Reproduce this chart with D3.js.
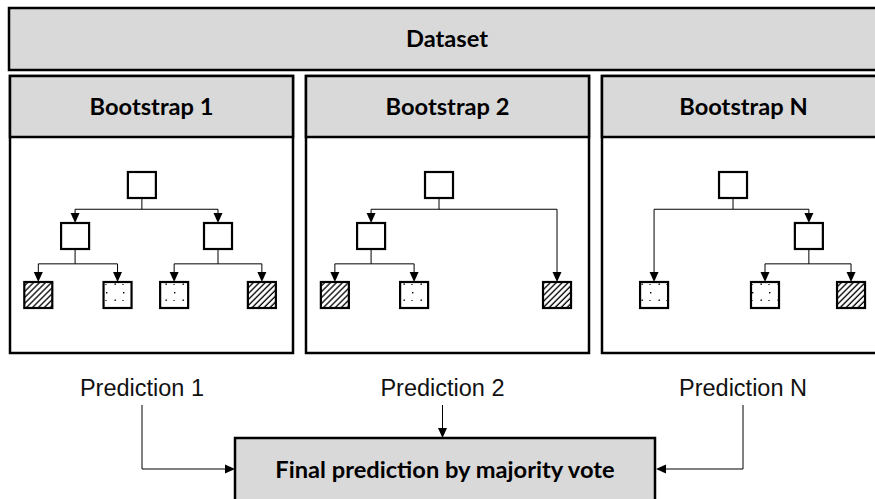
<!DOCTYPE html>
<html>
<head>
<meta charset="utf-8">
<script src="https://cdn.jsdelivr.net/npm/d3@7"></script>
<style>
  body { margin: 0; background: #fff; }
  svg { display: block; }
</style>
</head>
<body>
<div id="chart"></div>
<script>
// ---- data ----
var datasetLabel = "Dataset";
var bootstrapNames = ["Bootstrap 1", "Bootstrap 2", "Bootstrap N"];
var predictionNames = ["Prediction 1", "Prediction 2", "Prediction N"];
var finalLabel = "Final prediction by majority vote";

// tree nodes, pos = horizontal place across the panel (0..100)
// leaves always sit on the bottom row
var tree1 = [
  {id: "r", parent: null, pos: 46.6},
  {id: "a", parent: "r", pos: 23},
  {id: "b", parent: "r", pos: 73.5},
  {id: "a1", parent: "a", pos: 10, leaf: "hatch"},
  {id: "a2", parent: "a", pos: 38, leaf: "dots"},
  {id: "b1", parent: "b", pos: 58, leaf: "dots"},
  {id: "b2", parent: "b", pos: 89, leaf: "hatch"}
];
var tree2 = [
  {id: "r", parent: null, pos: 47},
  {id: "a", parent: "r", pos: 23},
  {id: "a1", parent: "a", pos: 10.2, leaf: "hatch"},
  {id: "a2", parent: "a", pos: 38.2, leaf: "dots"},
  {id: "b", parent: "r", pos: 88.7, leaf: "hatch"}
];
var treeN = [
  {id: "r", parent: null, pos: 46.3},
  {id: "a", parent: "r", pos: 18.4, leaf: "dots"},
  {id: "b", parent: "r", pos: 73.1},
  {id: "b1", parent: "b", pos: 57.6, leaf: "dots"},
  {id: "b2", parent: "b", pos: 88, leaf: "hatch"}
];
var trees = [tree1, tree2, treeN];

// ---- setup ----
var width = 875, height = 499;
var grey = "#d9d9d9";
var boldFont = "Lato, 'Open Sans', sans-serif";

var svg = d3.select("#chart").append("svg")
    .attr("width", width)
    .attr("height", height);

var defs = svg.append("defs");
var hatch = defs.append("pattern")
    .attr("id", "hatch")
    .attr("patternUnits", "userSpaceOnUse")
    .attr("width", 4.2).attr("height", 4.2)
    .attr("patternTransform", "rotate(45)");
hatch.append("rect").attr("width", 4.2).attr("height", 4.2).attr("fill", "#fff");
hatch.append("line")
    .attr("x1", 1).attr("y1", 0).attr("x2", 1).attr("y2", 4.2)
    .attr("stroke", "#000").attr("stroke-width", 1.3);

// sparse dots, a few per leaf box
var dots = defs.append("pattern")
    .attr("id", "dots")
    .attr("patternUnits", "userSpaceOnUse")
    .attr("width", 17).attr("height", 16);
dots.append("rect").attr("width", 17).attr("height", 16).attr("fill", "#fff");
[[4, 4], [12.5, 11.5]].forEach(function(p) {
  dots.append("rect").attr("x", p[0]).attr("y", p[1])
      .attr("width", 1.4).attr("height", 1.4).attr("fill", "#000");
});
dots.append("rect").attr("x", 3).attr("y", 12).attr("width", 2).attr("height", 0.8).attr("fill", "#444");

function arrow(g, x, y, dir) {
  // triangle with tip at (x,y)
  var L = 10, W = 4.5, pts;
  if (dir === "down") pts = [[x, y], [x - W, y - L], [x + W, y - L]];
  else if (dir === "right") pts = [[x, y], [x - L, y - W], [x - L, y + W]];
  else pts = [[x, y], [x + L, y - W], [x + L, y + W]];
  g.append("path").attr("d", "M" + pts.join("L") + "Z").attr("fill", "#000");
}

// ---- dataset bar ----
svg.append("rect")
    .attr("x", 9).attr("y", 8)
    .attr("width", 880).attr("height", 62)
    .attr("fill", grey).attr("stroke", "#000").attr("stroke-width", 2.5);

svg.append("text")
    .attr("class", "bold")
    .attr("x", 447).attr("y", 39)
    .attr("dy", "0.35em")
    .attr("text-anchor", "middle")
    .text(datasetLabel);

// ---- bootstrap panels ----
var xPanel = d3.scaleBand()
    .domain(bootstrapNames)
    .range([10, 885])
    .paddingInner(0.0439);

var panelTop = 76, headerBottom = 137, panelBottom = 353;
var nodeW = 28, nodeH = 26;
var leafLevel = 2;
var levelTop = d3.scaleOrdinal().domain([0, 1, 2]).range([172, 223, 282]);
function rowOf(n) { return n.data.leaf ? leafLevel : n.depth; }

bootstrapNames.forEach(function(name, i) {
  var x0 = xPanel(name), bw = xPanel.bandwidth();
  var g = svg.append("g");

  g.append("rect")
      .attr("x", x0).attr("y", panelTop)
      .attr("width", bw).attr("height", panelBottom - panelTop)
      .attr("fill", "#fff").attr("stroke", "#000").attr("stroke-width", 2.5);
  g.append("rect")
      .attr("x", x0).attr("y", panelTop)
      .attr("width", bw).attr("height", headerBottom - panelTop)
      .attr("fill", grey).attr("stroke", "#000").attr("stroke-width", 2.5);
  g.append("text")
      .attr("class", "bold")
      .attr("x", x0 + bw / 2).attr("y", (panelTop + headerBottom) / 2)
      .attr("dy", "0.35em")
      .attr("text-anchor", "middle")
      .text(name);

  var x = d3.scaleLinear().domain([0, 100]).range([x0, x0 + bw]);
  var root = d3.stratify().id(function(d) { return d.id; })
      .parentId(function(d) { return d.parent; })(trees[i]);

  // connectors
  var links = g.append("g").attr("stroke", "#000").attr("stroke-width", 1).attr("fill", "none");
  root.each(function(n) {
    if (!n.children) return;
    var px = x(n.data.pos);
    var pb = levelTop(rowOf(n)) + nodeH;
    var nt = levelTop(rowOf(n) + 1);
    var by = pb + (nt - pb) * 0.45;
    var xs = n.children.map(function(c) { return x(c.data.pos); }).concat([px]);
    links.append("line").attr("x1", px).attr("y1", pb).attr("x2", px).attr("y2", by);
    links.append("line").attr("x1", d3.min(xs)).attr("y1", by).attr("x2", d3.max(xs)).attr("y2", by);
    n.children.forEach(function(c) {
      var cx = x(c.data.pos), ct = levelTop(rowOf(c));
      links.append("line").attr("x1", cx).attr("y1", by).attr("x2", cx).attr("y2", ct - 8);
      arrow(g, cx, ct, "down");
    });
  });

  // nodes
  g.selectAll(".node")
      .data(root.descendants())
      .enter().append("rect")
      .attr("class", "node")
      .attr("x", function(d) { return x(d.data.pos) - nodeW / 2; })
      .attr("y", function(d) { return levelTop(rowOf(d)); })
      .attr("width", nodeW).attr("height", nodeH)
      .attr("fill", function(d) { return d.data.leaf ? "url(#" + d.data.leaf + ")" : "#fff"; })
      .attr("stroke", "#000").attr("stroke-width", 2.2);
});

// ---- predictions ----
var xPred = d3.scalePoint().domain(predictionNames).range([142, 743]);
var predBase = 396, lineStart = 405;
var finalX0 = 235, finalX1 = 655, finalTop = 438, arrowY = 469;

svg.selectAll(".pred")
    .data(predictionNames)
    .enter().append("text")
    .attr("class", "pred")
    .attr("x", function(d) { return xPred(d); })
    .attr("y", predBase)
    .attr("text-anchor", "middle")
    .attr("font-family", "'Liberation Sans', Arial, sans-serif")
    .attr("font-size", 23.5)
    .attr("fill", "#111")
    .text(function(d) { return d; });

var flow = svg.append("g").attr("stroke", "#000").attr("stroke-width", 1).attr("fill", "none");
var p1 = xPred(predictionNames[0]), p2 = xPred(predictionNames[1]), pn = xPred(predictionNames[2]);
flow.append("polyline").attr("points", [[p1, lineStart], [p1, arrowY], [finalX0 - 8, arrowY]].join(" "));
flow.append("line").attr("x1", p2).attr("y1", lineStart).attr("x2", p2).attr("y2", finalTop - 8);
flow.append("polyline").attr("points", [[pn, lineStart], [pn, arrowY], [finalX1 + 8, arrowY]].join(" "));
arrow(svg, finalX0, arrowY, "right");
arrow(svg, p2, finalTop, "down");
arrow(svg, finalX1 + 1, arrowY, "left");

svg.append("rect")
    .attr("x", finalX0).attr("y", finalTop)
    .attr("width", finalX1 - finalX0).attr("height", 80)
    .attr("fill", grey).attr("stroke", "#000").attr("stroke-width", 2.5);
svg.append("text")
    .attr("class", "bold")
    .attr("x", (finalX0 + finalX1) / 2).attr("y", 470)
    .attr("dy", "0.35em")
    .attr("text-anchor", "middle")
    .text(finalLabel);

// bold labels: size them so "Bootstrap 1" is about as wide as in the figure
var bold = svg.selectAll("text.bold")
    .attr("font-family", boldFont)
    .attr("font-weight", "bold")
    .attr("font-size", 20)
    .attr("fill", "#000");
var probe = svg.selectAll("text.bold").filter(function() { return this.textContent === bootstrapNames[0]; }).node();
var fs = 20 * 124 / probe.getComputedTextLength();
bold.attr("font-size", fs);
</script>
</body>
</html>
